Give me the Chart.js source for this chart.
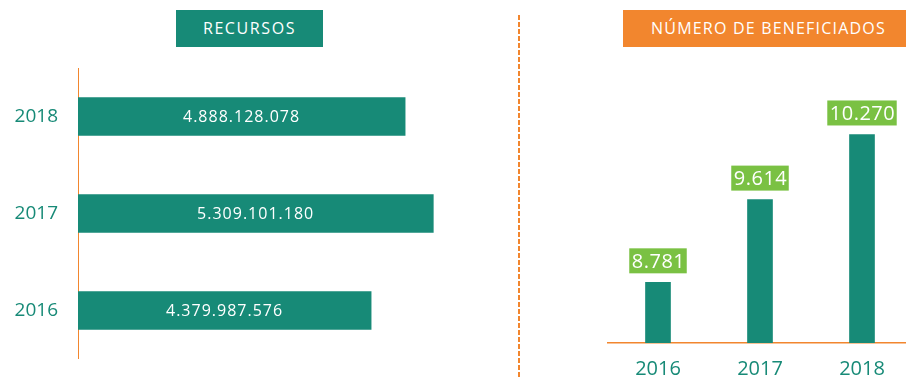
<!DOCTYPE html>
<html>
<head>
<meta charset="utf-8">
<script src="https://cdn.jsdelivr.net/npm/chart.js@4.4.1/dist/chart.umd.min.js"></script>
<style>
  html, body { margin: 0; padding: 0; background: #fff; overflow: hidden; }
  body { width: 906px; height: 378px; position: relative; font-family: "Open Sans", sans-serif; }
  .tag { position: absolute; top: 10px; height: 37px; line-height: 37px; color: #fff;
         font-size: 16px; text-align: center; }
  #tagRec { left: 176px; width: 147px; background: #178a77; letter-spacing: 1.6px; }
  #tagBen { left: 623px; width: 283px; background: #f2862e; letter-spacing: 1.2px; text-indent: 8px; }
  #divider { position: absolute; left: 518px; top: 15px; width: 2px; height: 363px;
             background: repeating-linear-gradient(to bottom, #f2862e 0 5px, transparent 5px 7px); }
  .box { position: absolute; }
  #recBox { left: 0; top: 68px; width: 513px; height: 291px; }
  #benBox { left: 607px; top: 60px; width: 306px; height: 320px; }
</style>
</head>
<body>
<div class="tag" id="tagRec">RECURSOS</div>
<div class="tag" id="tagBen">NÚMERO DE BENEFICIADOS</div>
<div id="divider"></div>
<div class="box" id="recBox"><canvas id="recursos"></canvas></div>
<div class="box" id="benBox"><canvas id="benef"></canvas></div>
<script>
// resources per year (top to bottom) and number of beneficiaries per year
const recYears = ["2018", "2017", "2016"];
const recValues = [4888128078, 5309101180, 4379987576];
const benYears = ["2016", "2017", "2018"];
const benValues = [8781, 9614, 10270];

const TEAL = "#178a77", ORANGE = "#f2862e", GREEN = "#7ac143";
const FONT = "'Open Sans', sans-serif";
const dots = v => String(Math.round(v)).replace(/\B(?=(\d{3})+(?!\d))/g, ".");

// white amount centred inside each horizontal bar
const innerLabels = {
  id: "innerLabels",
  afterDatasetsDraw(chart) {
    const ctx = chart.ctx;
    const ds = chart.data.datasets[0];
    ctx.save();
    ctx.font = "16px " + FONT;
    ctx.letterSpacing = "1px";
    ctx.fillStyle = "#fff";
    ctx.textAlign = "center";
    ctx.textBaseline = "middle";
    chart.getDatasetMeta(0).data.forEach((bar, i) => {
      ctx.fillText(dots(ds.data[i]), (bar.base + bar.x) / 2, bar.y + 1);
    });
    ctx.restore();
  }
};

// green tag with the value sitting above each column
const topTags = {
  id: "topTags",
  afterDatasetsDraw(chart) {
    const ctx = chart.ctx;
    const ds = chart.data.datasets[0];
    ctx.save();
    ctx.font = "20px " + FONT;
    ctx.letterSpacing = "0.5px";
    ctx.textAlign = "center";
    ctx.textBaseline = "middle";
    chart.getDatasetMeta(0).data.forEach((bar, i) => {
      const txt = dots(ds.data[i]);
      const w = ctx.measureText(txt).width + 4, h = 25;
      const bottom = bar.y - 9;
      ctx.fillStyle = GREEN;
      ctx.fillRect(bar.x - w / 2, bottom - h, w, h);
      ctx.fillStyle = "#fff";
      ctx.fillText(txt, bar.x + 0.5, bottom - h / 2 + 1);
    });
    ctx.restore();
  }
};

new Chart(document.getElementById("recursos"), {
  type: "bar",
  data: {
    labels: recYears,
    datasets: [{ data: recValues, backgroundColor: TEAL, barThickness: 38, borderWidth: 0 }]
  },
  options: {
    indexAxis: "y", responsive: true, maintainAspectRatio: false, animation: false,
    layout: { padding: 0 },
    plugins: { legend: { display: false }, tooltip: { enabled: false } },
    scales: {
      x: { display: false, min: 0, max: 6.5e9 },
      y: {
        // fixed gutter for the year labels, no extra room above/below the bars
        afterFit: s => { s.width = 78; s.paddingTop = 0; s.paddingBottom = 0; },
        grid: { display: false, drawTicks: false },
        border: { color: ORANGE, width: 1 },
        ticks: { color: TEAL, padding: 20, font: { family: FONT, size: 19 } }
      }
    }
  },
  plugins: [innerLabels]
});

new Chart(document.getElementById("benef"), {
  type: "bar",
  data: {
    labels: benYears,
    datasets: [{ data: benValues, backgroundColor: TEAL, barThickness: 25, borderWidth: 0 }]
  },
  options: {
    responsive: true, maintainAspectRatio: false, animation: false,
    layout: { padding: 0 },
    plugins: { legend: { display: false }, tooltip: { enabled: false } },
    scales: {
      y: { display: false, min: 8170, max: 11020 },
      x: {
        afterFit: s => { s.height = 37; },
        grid: { display: false, drawTicks: false },
        border: { color: ORANGE, width: 1.5 },
        ticks: { color: TEAL, padding: 14, font: { family: FONT, size: 20 } }
      }
    }
  },
  plugins: [topTags]
});
</script>
</body>
</html>
